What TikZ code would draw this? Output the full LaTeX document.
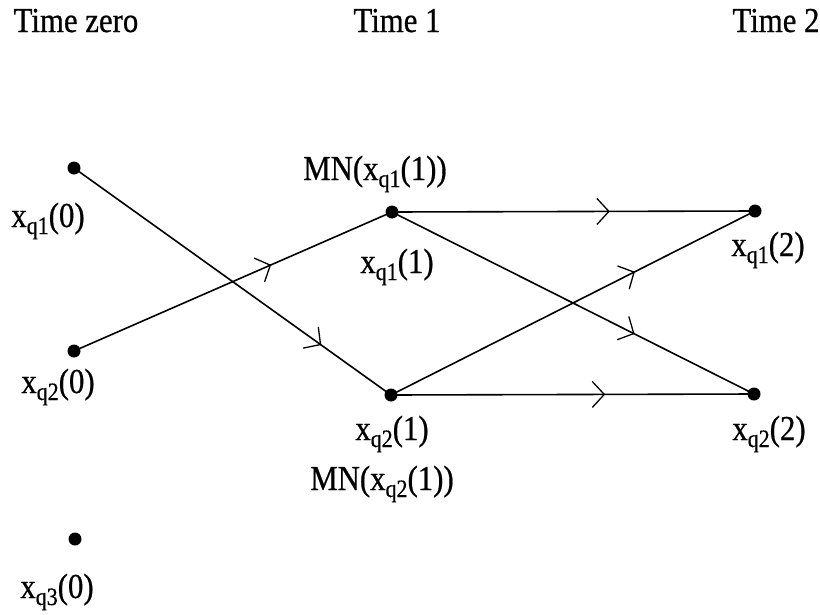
\documentclass[tikz,border=0pt]{standalone}
\usepackage{fontspec}
\setmainfont{Liberation Serif}[FakeStretch=0.88,FakeBold=0.6]
\usetikzlibrary{arrows.meta,decorations.markings}
\newcommand{\xsub}[2]{x\raisebox{-7pt}{\fontsize{25}{25}\selectfont q#1}(#2)}
\tikzset{
  dot/.style={circle,fill=black,inner sep=0pt,minimum size=13pt},
  lbl/.style={font=\fontsize{35}{36}\selectfont,inner sep=0pt,anchor=base},
  edge/.style={line width=1.6pt,postaction={decorate},
    decoration={markings,mark=at position #1 with {\arrow{Straight Barb[length=12pt,width=26pt,line width=1.3pt]}}}}
}
\begin{document}
\begin{tikzpicture}[x=1pt,y=-1pt]
\useasboundingbox (0,0) rectangle (820,614);
\node[lbl] (t0) at (76,32) {Time zero};
\node[lbl] (t1) at (397,32) {Time 1};
\node[lbl] (t2) at (776,32) {Time 2};

\node[dot] (a0) at (74,168) {};
\node[dot] (b0) at (74,351) {};
\node[dot] (c0) at (75,539) {};
\node[dot] (a1) at (392,212) {};
\node[dot] (b1) at (391,395) {};
\node[dot] (a2) at (755,211) {};
\node[dot] (b2) at (754,394) {};

\node[lbl] (la0) at (48,227) {\xsub{1}{0}};
\node[lbl] (lb0) at (58,393) {\xsub{2}{0}};
\node[lbl] (lc0) at (57,598) {\xsub{3}{0}};
\node[lbl] (mn1) at (375,180) {MN(\xsub{1}{1})};
\node[lbl] (la1) at (397,273) {\xsub{1}{1}};
\node[lbl] (lb1) at (392,440) {\xsub{2}{1}};
\node[lbl] (mn2) at (382,490) {MN(\xsub{2}{1})};
\node[lbl] (la2) at (768,256) {\xsub{1}{2}};
\node[lbl] (lb2) at (769,440) {\xsub{2}{2}};

\draw[edge=0.78] (a0.center) -- (b1.center);
\draw[edge=0.62] (b0.center) -- (a1.center);
\draw[edge=0.6] (a1.center) -- (a2.center);
\draw[edge=0.67] (b1.center) -- (a2.center);
\draw[edge=0.67] (a1.center) -- (b2.center);
\draw[edge=0.59] (b1.center) -- (b2.center);
\end{tikzpicture}
\end{document}
